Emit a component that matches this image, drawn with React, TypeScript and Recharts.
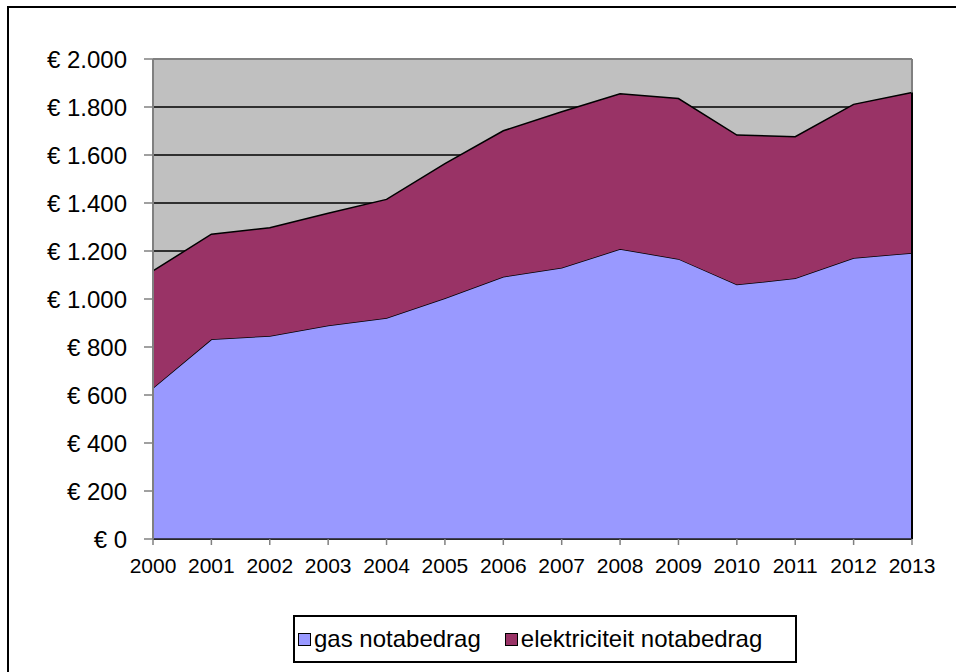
import { AreaChart, Area, XAxis, YAxis, CartesianGrid, ReferenceLine } from 'recharts'

const years = ['2000', '2001', '2002', '2003', '2004', '2005', '2006', '2007', '2008', '2009', '2010', '2011', '2012', '2013']
const gasValues = [629, 832, 846, 890, 921, 1003, 1093, 1130, 1208, 1167, 1060, 1086, 1171, 1192]
const elecValues = [488, 438, 451, 467, 494, 561, 608, 650, 647, 668, 623, 590, 640, 668]
const yTicks = [0, 200, 400, 600, 800, 1000, 1200, 1400, 1600, 1800, 2000]

const seriesNames = ['gas notabedrag', 'elektriciteit notabedrag']
const gasColor = '#9999FF'
const elecColor = '#993366'
const font = '"Liberation Sans", Arial, sans-serif'

const data = years.map((year, i) => ({
  year,
  gas: gasValues[i],
  elec: elecValues[i],
}))

const lastIndex = years.length - 1
const lastTotal = gasValues[lastIndex] + elecValues[lastIndex]

function formatEuro(value: number): string {
  const s = String(value)
  const withDots = s.replace(/\B(?=(\d{3})+(?!\d))/g, '.')
  return `€ ${withDots}`
}

function LegendBox() {
  const swatch = (color: string) => (
    <span
      style={{
        display: 'inline-block',
        width: 11,
        height: 11,
        background: color,
        border: '1.5px solid #000',
        marginRight: 3,
      }}
    />
  )
  return (
    <div
      style={{
        position: 'absolute',
        left: 293,
        top: 615,
        width: 500,
        height: 44,
        border: '2px solid #000',
        display: 'flex',
        alignItems: 'center',
        fontFamily: font,
        fontSize: 24,
        color: '#000',
        background: '#fff',
        boxSizing: 'content-box',
      }}
    >
      <span style={{ display: 'flex', alignItems: 'center', marginLeft: 3 }}>
        {swatch(gasColor)}
        {seriesNames[0]}
      </span>
      <span style={{ display: 'flex', alignItems: 'center', marginLeft: 24 }}>
        {swatch(elecColor)}
        {seriesNames[1]}
      </span>
    </div>
  )
}

export default function App() {
  return (
    <div style={{ position: 'absolute', left: 0, top: 0, width: 956, height: 672, overflow: 'hidden', background: '#fff' }}>
      <div
        style={{
          position: 'absolute',
          left: 7,
          top: 6,
          width: 1000,
          height: 720,
          border: '2px solid #000',
        }}
      />
      <div style={{ position: 'absolute', left: 0, top: 0 }}>
        <AreaChart
          width={956}
          height={600}
          data={data}
          margin={{ top: 59, right: 44, bottom: 31, left: 13 }}
        >
          <CartesianGrid
            vertical={false}
            stroke="#000"
            strokeWidth={1.5}
            fill="#C0C0C0"
            fillOpacity={1}
          />
          <XAxis
            dataKey="year"
            height={30}
            interval={0}
            tickSize={6}
            tickMargin={13}
            axisLine={{ stroke: '#222', strokeWidth: 1.5 }}
            tickLine={{ stroke: '#808080', strokeWidth: 1.5 }}
            tick={{ fill: '#000', fontSize: 21, fontFamily: font }}
          />
          <YAxis
            width={140}
            domain={[0, 2000]}
            ticks={yTicks}
            interval={0}
            tickSize={9}
            tickMargin={17}
            tickFormatter={formatEuro}
            axisLine={{ stroke: '#808080', strokeWidth: 2 }}
            tickLine={{ stroke: '#808080', strokeWidth: 1.5 }}
            tick={{ fill: '#000', fontSize: 24, fontFamily: font }}
          />
          <ReferenceLine y={2000} stroke="#808080" strokeWidth={2} />
          <ReferenceLine x={years[lastIndex]} stroke="#808080" strokeWidth={2} />
          <Area
            type="linear"
            dataKey="gas"
            stackId="1"
            stroke="#000"
            strokeWidth={1.5}
            fill={gasColor}
            fillOpacity={1}
            isAnimationActive={false}
          />
          <Area
            type="linear"
            dataKey="elec"
            stackId="1"
            stroke="#000"
            strokeWidth={1.5}
            fill={elecColor}
            fillOpacity={1}
            isAnimationActive={false}
          />
          <ReferenceLine
            segment={[
              { x: years[lastIndex], y: 0 },
              { x: years[lastIndex], y: lastTotal },
            ]}
            stroke="#000"
            strokeWidth={2}
          />
        </AreaChart>
      </div>
      <LegendBox />
    </div>
  )
}
